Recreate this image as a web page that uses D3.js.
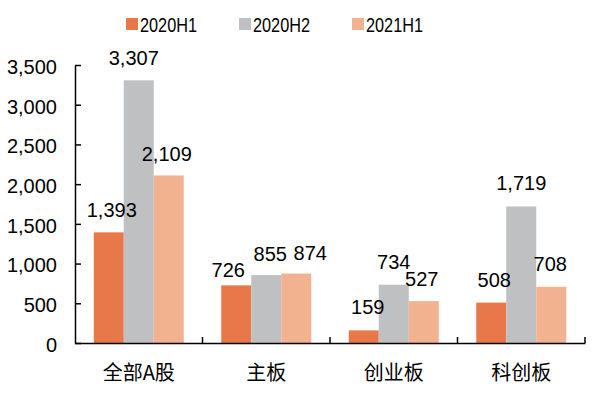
<!DOCTYPE html>
<html><head><meta charset="utf-8">
<script src="https://cdn.jsdelivr.net/npm/d3@7"></script>
<style>body{margin:0;background:#fff}svg{display:block}</style>
</head><body><svg id="c" width="600" height="403"></svg>
<script>
const categories = ["全部A股", "主板", "创业板", "科创板"];
const seriesNames = ["2020H1", "2020H2", "2021H1"];
const s2020H1 = [1393, 726, 159, 508];
const s2020H2 = [3307, 855, 734, 1719];
const s2021H1 = [2109, 874, 527, 708];
const yTicks = [0, 500, 1000, 1500, 2000, 2500, 3000, 3500];
// manual label nudges (px) [dx, dy] per series per category
const labelNudge = [
  [[3, 0], [-8, 7], [4, -1], [3, 0]],
  [[-5, 0], [4, 1], [0, 0], [0, -1]],
  [[-2, 1], [14, 2], [-2, 0], [-1, 0]]
];

const colors = ["#E8784A", "#BFC0C2", "#F2B18F"];
const values = [s2020H1, s2020H2, s2021H1];
const svg = d3.select("#c");
const mLeft = 75, mRight = 585, mTop = 65, mBottom = 343;

const x = d3.scaleBand().domain(categories).range([mLeft, mRight]).padding(0);
const xs = d3.scaleBand().domain(seriesNames).range([0, x.bandwidth()]).paddingInner(0).paddingOuter(0.625);
const y = d3.scaleLinear().domain([0, 3500]).range([mBottom, mTop]);

const barsG = svg.append("g");
const labelsG = svg.append("g");
seriesNames.forEach((s, si) => {
  barsG.append("g").selectAll("rect").data(categories).join("rect")
    .attr("x", c => x(c) + xs(s))
    .attr("width", xs.bandwidth())
    .attr("y", (c, i) => y(values[si][i]))
    .attr("height", (c, i) => y(0) - y(values[si][i]))
    .attr("fill", colors[si]);
  labelsG.append("g").selectAll("text").data(categories).join("text")
    .attr("x", (c, i) => x(c) + xs(s) + xs.bandwidth() / 2 + labelNudge[si][i][0])
    .attr("y", (c, i) => y(values[si][i]) - 15.5 + labelNudge[si][i][1])
    .attr("text-anchor", "middle")
    .attr("font-family", "Liberation Sans, Arial, sans-serif")
    .attr("font-size", 20)
    .attr("fill", "#000")
    .text((c, i) => d3.format(",")(values[si][i]));
});

// y axis
const yAxis = d3.axisLeft(y).tickValues(yTicks).tickFormat(d3.format(",")).tickSizeInner(-6).tickSizeOuter(0).tickPadding(18);
const ya = svg.append("g").attr("transform", `translate(${mLeft},0)`).call(yAxis);
ya.select(".domain").attr("stroke", "#000").attr("stroke-width", 1.5);
ya.selectAll(".tick line").attr("stroke", "#000").attr("stroke-width", 1.5);
ya.selectAll(".tick text").attr("font-family", "Liberation Sans, Arial, sans-serif").attr("font-size", 20).attr("fill", "#000").attr("dy", "0.42em");

// x axis
const xAxis = d3.axisBottom(x).tickSize(0).tickPadding(0);
const xa = svg.append("g").attr("transform", `translate(0,${mBottom})`).call(xAxis);
xa.select(".domain").attr("stroke", "#000").attr("stroke-width", 1.5);
xa.selectAll(".tick text").attr("font-family", "Noto Sans CJK SC, sans-serif").attr("font-size", 20).attr("fill", "#000").attr("y", 37).attr("dy", 0);
xa.selectAll(".bound").data(categories).join("line").attr("class", "bound")
  .attr("x1", c => x(c) + x.bandwidth()).attr("x2", c => x(c) + x.bandwidth())
  .attr("y1", 0).attr("y2", -6).attr("stroke", "#000").attr("stroke-width", 1.5);

// legend
const lg = svg.append("g");
seriesNames.forEach((s, i) => {
  const lx = 126 + i * 113;
  lg.append("rect").attr("x", lx).attr("y", 18).attr("width", 12).attr("height", 12).attr("fill", colors[i]);
  lg.append("text").attr("x", lx + 14).attr("y", 32)
    .attr("font-family", "Liberation Sans, Arial, sans-serif").attr("font-size", 20)
    .attr("textLength", 57).attr("lengthAdjust", "spacingAndGlyphs")
    .attr("fill", "#000").text(s);
});
</script></body></html>
